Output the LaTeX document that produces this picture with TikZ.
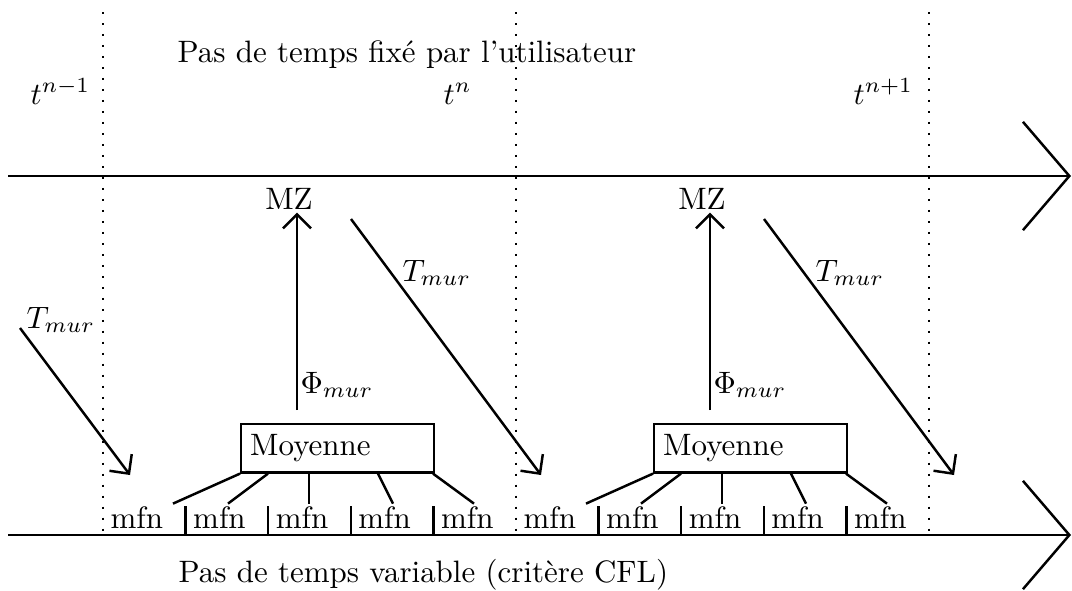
\documentclass[tikz,border=0pt]{standalone}
\usepackage{fontspec}
\usepackage{tikz}
\usetikzlibrary{arrows.meta}

\begin{document}
\begin{tikzpicture}[
  x=0.323pt, y=-0.323pt,
  axe/.style={line width=0.8pt, -{Straight Barb[length=15pt, width=35pt]}},
  arr/.style={line width=0.8pt, -{Straight Barb[length=4.5pt, width=9pt]}},
  trait/.style={line width=0.8pt},
  pointille/.style={line width=0.8pt, dash pattern=on 0.8pt off 2.75pt},
  lbl/.style={inner sep=0pt, anchor=base west},
  moybox/.style={draw, line width=0.8pt, anchor=north west, minimum width=62.3pt,
                 minimum height=12.9pt, text width=56.5pt, inner xsep=2.9pt, align=left}
]
\useasboundingbox (0,0) rectangle (1072,590);

% axes
\draw[axe] (8,176) -- (1071,176);
\draw[axe] (8,535) -- (1071,535);
\foreach \x in {103,516,929}
  \draw[pointille] (\x,12) -- (\x,531);

\node[lbl] (pasfixe) at (177,62) {Pas de temps fixé par l'utilisateur};
\node[lbl] (pasvar) at (178,582) {Pas de temps variable (critère CFL)};
\node[lbl] (tnm1) at (30,104) {$t^{n-1}$};
\node[lbl] (tn) at (443,104) {$t^{n}$};
\node[lbl] (tnp1) at (853,104) {$t^{n+1}$};

% flux entrant du pas precedent
\coordinate (tdep0) at (20,328);
\coordinate (tarr0) at (130,475);
\node[lbl] (tlbl0) at (26,328) {$T_{mur}$};
\draw[arr] (tdep0) -- (tarr0);

\foreach \g/\dx in {1/0,2/413} {
  \begin{scope}[shift={(\dx,0)}]
    \node[moybox] (moy\g) at (240,423) {Moyenne};
    \node[lbl, anchor=base, inner sep=1pt] (mz\g) at (289,209) {MZ};
    \coordinate (phi\g) at (297,410);
    \node[lbl] (philbl\g) at (300,393) {$\Phi_{mur}$};
    \draw[arr] (phi\g) -- (phi\g |- mz\g.south);
    \coordinate (tdep\g) at (351,219);
    \coordinate (tarr\g) at (541,475);
    \draw[arr] (tdep\g) -- (tarr\g);
    \node[lbl] (tlbl\g) at (402,281) {$T_{mur}$};
    \foreach \k in {1,...,5}
      \node[lbl] (mfn\g\k) at (110+82.6*\k-82.6,528) {mfn};
    \foreach \k in {1,...,4}
      \draw[trait] (103+82.6*\k,535) -- ++(0,-29);
    % liens vers la moyenne
    \draw[trait] (moy\g.south west) -- ++(-67,30);
    \draw[trait] (moy\g.south west) ++(28,0) -- ++(-40,30);
    \draw[trait] (moy\g.south west) ++(69,0) -- ++(0,30);
    \draw[trait] (moy\g.south west) ++(138,0) -- ++(15,30);
    \draw[trait] (moy\g.south west) ++(193,0) -- ++(41,30);
  \end{scope}
}
\end{tikzpicture}
\end{document}
